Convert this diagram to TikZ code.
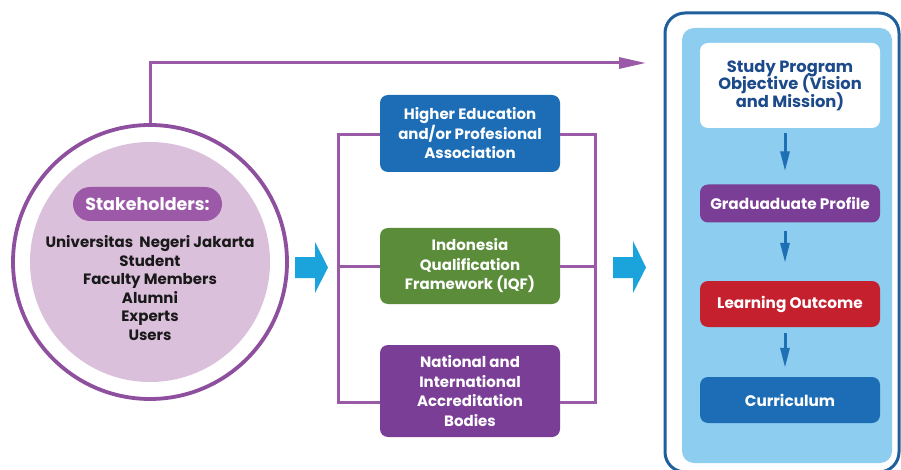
\documentclass[tikz,border=0pt]{standalone}
\usepackage{fontspec}
\setmainfont{Poppins}
\usetikzlibrary{arrows.meta}
\definecolor{ringpurple}{HTML}{8E4F9E}
\definecolor{circfill}{HTML}{DBC0DC}
\definecolor{pillpurple}{HTML}{9B59A8}
\definecolor{linepurple}{HTML}{9A5AA8}
\definecolor{boxblue}{HTML}{1C6DB5}
\definecolor{boxgreen}{HTML}{5B8C3A}
\definecolor{boxpurple}{HTML}{7A3E96}
\definecolor{boxred}{HTML}{C4202E}
\definecolor{chevblue}{HTML}{1BA3DC}
\definecolor{lightblue}{HTML}{8DCDEF}
\definecolor{frameblue}{HTML}{1E5F9C}
\definecolor{titleblue}{HTML}{1D4A8A}
\definecolor{darrblue}{HTML}{1F6FB5}
\begin{document}
\lineskiplimit=-20pt
\begin{tikzpicture}[x=1pt,y=-1pt,
  midbox/.style={rounded corners=8pt, minimum width=180pt, inner sep=0pt, text=white,
    align=center, font=\bfseries\fontsize{15}{19.5}\selectfont},
  rbox/.style={rounded corners=8pt, minimum width=180pt, inner sep=0pt, text=white,
    align=center, font=\bfseries\fontsize{15.3}{17.5}\selectfont},
  bracket/.style={draw=linepurple, line width=3pt},
  chevron/.style={fill=chevblue},
  darr/.style={draw=darrblue, line width=3pt, -{Triangle[length=20pt,width=9pt]}},
  toparr/.style={draw=linepurple, line width=3pt, -{Triangle[length=27pt,width=11pt]}}]
\useasboundingbox (0,0) rectangle (901,470);
\fill[white] (0,0) rectangle (901,470);

% stakeholder circle
\fill[circfill] (150,262) circle (120);
\node[circle, draw=ringpurple, line width=3.8pt, minimum size=274pt, inner sep=0pt] (ring) at (150,262) {};
\node[fill=pillpurple, rounded corners=17pt, minimum width=149pt, minimum height=34pt, inner sep=0pt,
  text=white, font=\bfseries\fontsize{17.5}{18}\selectfont] (pill) at (147.5,204) {Stakeholders:};
\node[align=center, text=black!90, font=\bfseries\fontsize{15}{18.5}\selectfont] (list) at (150,288)
  {Universitas~~Negeri Jakarta\\Student\\Faculty Members\\Alumni\\Experts\\Users};

% middle boxes
\node[midbox, fill=boxblue, minimum height=77pt] (hea) at (470,133.5)
  {Higher Education\\and/or Profesional\\Association};
\node[midbox, fill=boxgreen, minimum height=76pt] (iqf) at (470,266)
  {Indonesia\\Qualification\\Framework (IQF)};
\node[midbox, fill=boxpurple, minimum height=92pt] (acc) at (470,391)
  {National and\\International\\Accreditation\\Bodies};

\coordinate (lt) at (338,135);
\coordinate (lb) at (338,402);
\coordinate (rt) at (595,135);
\coordinate (rb) at (595,402);
\draw[bracket] (hea.west |- lt) -- (lt) -- (lb) -- (acc.west |- lb);
\draw[bracket] (iqf.west) -- (iqf.west -| lt);
\draw[bracket] (hea.east |- rt) -- (rt) -- (rb) -- (acc.east |- rb);
\draw[bracket] (iqf.east) -- (iqf.east -| rt);

% chevrons
\fill[chevron] (295,257) -- (315,257) -- (315,242) -- (328,267.5) -- (315,293) -- (315,278) -- (295,278) -- cycle;
\fill[chevron] (613,257) -- (633,257) -- (633,241) -- (646,267.5) -- (633,293) -- (633,278) -- (613,278) -- cycle;

% right container
\draw[draw=frameblue, line width=3pt, fill=white, rounded corners=20pt] (665,13) rectangle (899,472);
\fill[lightblue, rounded corners=12pt] (682,28) rectangle (892,463);

\coordinate (toptip) at (646,63);
\draw[toparr] (ring.north) |- (toptip);

\node[rbox, fill=white, text=titleblue, font=\bfseries\fontsize{16.3}{17.3}\selectfont, minimum height=85pt] (spo) at (790,85.5)
  {Study Program\\Objective (Vision\\and Mission)};
\node[rbox, fill=boxpurple, minimum height=38pt] (gp) at (790,203.5) {Graduaduate Profile};
\node[rbox, fill=boxred, minimum height=46pt] (lo) at (790,304) {Learning Outcome};
\node[rbox, fill=boxblue, minimum height=46pt] (cu) at (790,400) {Curriculum};

\draw[darr] ([xshift=-5pt,yshift=-5pt]spo.south) -- ([xshift=-5pt,yshift=13pt]gp.north);
\draw[darr] ([xshift=-5pt,yshift=-8pt]gp.south) -- ([xshift=-5pt,yshift=18pt]lo.north);
\draw[darr] ([xshift=-5pt,yshift=-6pt]lo.south) -- ([xshift=-5pt,yshift=9pt]cu.north);
\end{tikzpicture}
\end{document}
